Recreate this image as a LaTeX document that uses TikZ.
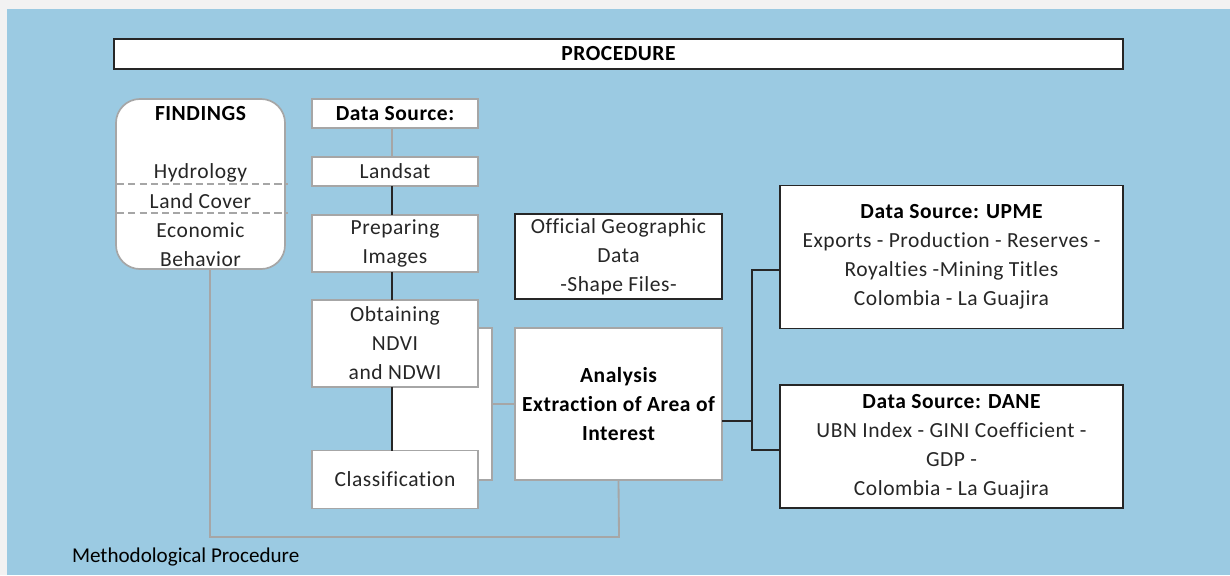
\documentclass[tikz,border=0pt]{standalone}
\usepackage{fontspec}
\setmainfont{Carlito}[LetterSpace=2.5,Ligatures={NoCommon,NoRare}]
\usetikzlibrary{positioning}
\definecolor{skyback}{HTML}{9BCAE2}
\definecolor{pageback}{HTML}{F2F2F2}
\definecolor{edgegrey}{HTML}{A6A6A6}
\definecolor{inkgrey}{HTML}{262626}
\begin{document}
\begin{tikzpicture}[x=0.025cm,y=-0.025cm,
    every node/.style={font=\fontsize{15.3}{20.6}\selectfont,text=inkgrey,align=center,inner sep=0pt,outer sep=0pt},
    darkbox/.style={draw=inkgrey,line width=1.3pt,fill=white},
    greybox/.style={draw=edgegrey,line width=1.2pt,fill=white},
    darkline/.style={draw=inkgrey,line width=1.1pt},
    greyline/.style={draw=edgegrey,line width=1.3pt},
    splitline/.style={draw=edgegrey,line width=1pt,dash pattern=on 5pt off 3pt}]
    % page and background
    \fill[pageback] (0,0) rectangle (1230,575);
    \fill[skyback] (7,9) rectangle (1230,575);
    \useasboundingbox (0,0) rectangle (1230,575);

    \node[darkbox,minimum width=25.225cm,minimum height=0.75cm,font=\fontsize{15.3}{20.6}\selectfont\bfseries,text=black] (proc) at (618.5,54) {PROCEDURE};

    % findings
    \node[greybox,rounded corners=0.6cm,minimum width=4.225cm,minimum height=4.25cm] (find) at (200.5,184) {};
    \node[font=\fontsize{15.3}{20.6}\selectfont\bfseries,text=black] (findt) at (200.5,114) {FINDINGS};
    \node (hydro) at (200.5,173) {Hydrology};
    \node (cover) at (200.5,201) {Land Cover};
    \node (econ) at (200.5,244.5) {Economic\\Behavior};
    \draw[splitline] (117,184) -- (288,184);
    \draw[splitline] (117,213) -- (288,213);

    % landsat chain
    \node[greybox,minimum width=2.5cm,minimum height=3.8cm] (bracket) at (442,404) {};
    \node[greybox,minimum width=4.15cm,minimum height=0.725cm,font=\fontsize{15.3}{20.6}\selectfont\bfseries,text=black] (dsrc) at (395,113.5) {Data Source:};
    \node[greybox,minimum width=4.15cm,minimum height=0.725cm] (lands) at (395,171.5) {Landsat};
    \node[greybox,minimum width=4.15cm,minimum height=1.425cm] (prep) at (395,243.5) {Preparing\\Images};
    \node[greybox,minimum width=4.15cm,minimum height=2.175cm] (obt) at (395,343.5) {Obtaining\\NDVI\\and NDWI};
    \node[greybox,minimum width=4.15cm,minimum height=1.45cm] (cls) at (395,479.5) {Classification};

    \draw[greyline] (dsrc.south -| bracket.west) -- (lands.north -| bracket.west);
    \draw[darkline] (lands.south -| bracket.west) -- (prep.north -| bracket.west);
    \draw[darkline] (prep.south -| bracket.west) -- (obt.north -| bracket.west);
    \draw[darkline] (obt.south -| bracket.west) -- (cls.north -| bracket.west);

    % analysis
    \node[darkbox,minimum width=5.175cm,minimum height=2.125cm] (geo) at (618.5,256.5) {Official Geographic\\Data\\-Shape Files-};
    \node[greybox,minimum width=5.175cm,minimum height=3.8cm,font=\fontsize{15.3}{20.6}\selectfont\bfseries,text=black] (ana) at (618.5,404) {Analysis\\Extraction of Area of\\Interest};
    \draw[greyline] (bracket.east |- ana.west) -- (ana.west);

    % external sources
    \node[darkbox,minimum width=8.575cm,minimum height=3.575cm] (upme) at (951.5,257) {\textbf{\color{black}Data Source: UPME}\\Exports - Production - Reserves -\\Royalties -Mining Titles\\Colombia - La Guajira};
    \node[darkbox,minimum width=8.575cm,minimum height=3.075cm] (dane) at (951.5,446.5) {\textbf{\color{black}Data Source: DANE}\\UBN Index - GINI Coefficient -\\GDP -\\Colombia - La Guajira};
    \coordinate (fork) at (752,421);
    \draw[darkline] (ana.east |- fork) -- (fork);
    \draw[darkline] (upme.west |- 0,270) -| (fork) |- (dane.west |- 0,450);

    % loop back to findings
    \draw[greyline] (find.south -| 210,0) |- (619,537) -- (ana.south);

    \node[anchor=west,text=black,font=\fontsize{15}{18}\selectfont\addfontfeature{LetterSpace=0}] (cap) at (72,557) {Methodological Procedure};
  \end{tikzpicture}
\end{document}
